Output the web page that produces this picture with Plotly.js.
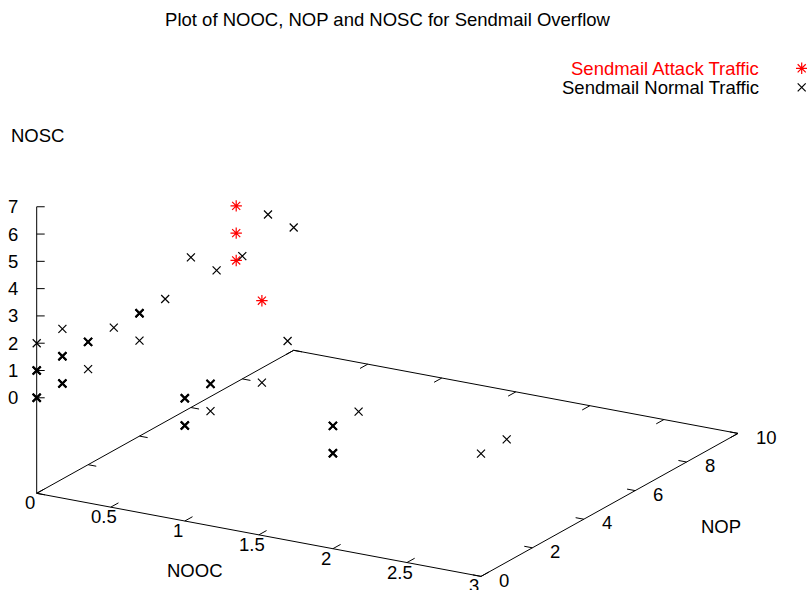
<!DOCTYPE html>
<html><head><meta charset="utf-8">
<script src="https://cdn.plot.ly/plotly-3.0.1.min.js"></script>
<style>html,body{margin:0;padding:0;background:#fff}</style>
</head><body><div id="chart" style="width:807px;height:590px"></div>
<script>
// ---------------- data ----------------
const attackNOOC = [1, 1, 1, 1];
const attackNOP  = [2, 2, 2, 3];
const attackNOSC = [7, 6, 5, 3];

const normalNOOC = [0, 0, 0, 0, 0, 0, 0, 0, 0, 0, 0, 0, 0, 0, 0, 0, 0, 0, 0, 0, 0, 0, 0,
                    1, 1, 1, 1, 1, 1, 1, 1, 1, 2, 2, 2, 2, 2, 3, 3];
const normalNOP  = [0, 0, 0, 0, 0, 1, 1, 1, 1, 1, 2, 2, 2, 3, 4, 4, 4, 5, 6, 7, 8, 9, 10,
                    4, 0, 0, 0, 0, 1, 1, 1, 3, 1, 0, 0, 0, 0, 1, 0];
const normalNOSC = [2, 1, 1, 0, 0, 2, 1, 1, 0, 0, 1, 1, 0, 1, 1, 1, 0, 1, 2, 1, 1, 2, 1,
                    1, 1, 1, 0, 0, 1, 1, 0, 0, 1, 1, 1, 0, 0, 1, 1];

const noocTicks = [0, 0.5, 1, 1.5, 2, 2.5, 3];
const nopTicks  = [0, 2, 4, 6, 8, 10];
const noscTicks = [0, 1, 2, 3, 4, 5, 6, 7];

const noocRange = [0, 3];
const nopRange  = [0, 10];
const noscRange = [0, 7];
const ticsLevel = 0.5;

const titleText = 'Plot of NOOC, NOP and NOSC for Sendmail Overflow';
const attackName = 'Sendmail Attack Traffic';
const normalName = 'Sendmail Normal Traffic';

// ---------------- view (gnuplot-like 60/30 projection) ----------------
const W = 807, H = 590;
const V = {ox: 36.7, oy: 493.3, xx: 148.1, xy: 27.7, yx: 25.7, yy: -14.3, zy: -27.29};
const zBase = noscRange[0] - ticsLevel * (noscRange[1] - noscRange[0]);
function proj(a, b, c) {
  return [V.ox + a * V.xx + b * V.yx, V.oy + a * V.xy + b * V.yy + (c - zBase) * V.zy];
}
const FONT = 'Liberation Sans, Arial, Helvetica, sans-serif';
const FS = 18.5;
const X_SIZE = 8, AST_SIZE = 9.5;

const traces = [];
const ann = [];

// base frame
(function () {
  const [x0, x1] = noocRange, [y0, y1] = nopRange;
  const pts = [[x0, y0], [x1, y0], [x1, y1], [x0, y1], [x0, y0]].map(p => proj(p[0], p[1], zBase));
  traces.push({x: pts.map(p => p[0]), y: pts.map(p => p[1]), mode: 'lines', type: 'scatter',
    line: {color: '#000', width: 1}, hoverinfo: 'skip', showlegend: false});
  const za = proj(x0, y0, zBase), zb = proj(x0, y0, noscRange[1]);
  traces.push({x: [za[0], zb[0]], y: [za[1], zb[1]], mode: 'lines', type: 'scatter',
    line: {color: '#000', width: 1}, hoverinfo: 'skip', showlegend: false});
})();

// ticks
(function () {
  const tx = [], ty = [];
  const seg = (p, q) => { tx.push(p[0], q[0], null); ty.push(p[1], q[1], null); };
  const tY = 0.3, tX = 0.055, tZ = 8;
  noocTicks.forEach(v => {
    seg(proj(v, nopRange[0], zBase), proj(v, nopRange[0] + tY, zBase));
    seg(proj(v, nopRange[1], zBase), proj(v, nopRange[1] - tY, zBase));
    const p = proj(v, nopRange[0], zBase);
    ann.push({x: p[0] - 7, y: p[1] + 9.5, text: String(v), xanchor: 'center', yanchor: 'middle'});
  });
  nopTicks.forEach(v => {
    seg(proj(noocRange[1], v, zBase), proj(noocRange[1] - tX, v, zBase));
    seg(proj(noocRange[0], v, zBase), proj(noocRange[0] + tX, v, zBase));
    const p = proj(noocRange[1], v, zBase);
    ann.push({x: p[0] + 16, y: p[1] + 3.6, text: String(v), xanchor: 'left', yanchor: 'middle'});
  });
  noscTicks.forEach(v => {
    const p = proj(noocRange[0], nopRange[0], v);
    seg(p, [p[0] + tZ, p[1]]);
    ann.push({x: p[0] - 17, y: p[1], text: String(v), xanchor: 'right', yanchor: 'middle'});
  });
  traces.push({x: tx, y: ty, mode: 'lines', type: 'scatter', line: {color: '#000', width: 1},
    hoverinfo: 'skip', showlegend: false});
})();

// normal points (overlapping duplicates drawn heavier)
(function () {
  const cnt = {};
  normalNOOC.forEach((a, i) => { const k = a + ',' + normalNOP[i] + ',' + normalNOSC[i]; cnt[k] = (cnt[k] || 0) + 1; });
  const px = [], py = [], lw = [];
  normalNOOC.forEach((a, i) => {
    const p = proj(a, normalNOP[i], normalNOSC[i]);
    px.push(p[0]); py.push(p[1]);
    lw.push(cnt[a + ',' + normalNOP[i] + ',' + normalNOSC[i]] > 1 ? 2 : 1.2);
  });
  traces.push({x: px, y: py, mode: 'markers', type: 'scatter', name: normalName, showlegend: false,
    marker: {symbol: 'x-thin', size: X_SIZE, color: '#000', line: {color: '#000', width: lw}}});
})();

// attack points
(function () {
  const px = [], py = [];
  attackNOOC.forEach((a, i) => { const p = proj(a, attackNOP[i], attackNOSC[i]); px.push(p[0]); py.push(p[1]); });
  traces.push({x: px, y: py, mode: 'markers', type: 'scatter', name: attackName, showlegend: false,
    marker: {symbol: 'asterisk', size: AST_SIZE, color: '#ff0000', line: {color: '#ff0000', width: 1.2}}});
})();

// gnuplot-style key (text left, sample right)
traces.push({x: [801.7], y: [68.3], mode: 'markers', type: 'scatter', hoverinfo: 'skip', showlegend: false,
  marker: {symbol: 'asterisk', size: AST_SIZE, color: '#ff0000', line: {color: '#ff0000', width: 1.2}}});
traces.push({x: [801.7], y: [87.3], mode: 'markers', type: 'scatter', hoverinfo: 'skip', showlegend: false,
  marker: {symbol: 'x-thin', size: X_SIZE, color: '#000', line: {color: '#000', width: 1.2}}});
ann.push({x: 761, y: 68, text: attackName, xanchor: 'right', yanchor: 'middle', color: '#ff0000'});
ann.push({x: 761, y: 87.5, text: normalName, xanchor: 'right', yanchor: 'middle'});

// axis titles
ann.push({x: 195, y: 570.5, text: 'NOOC', xanchor: 'center', yanchor: 'middle'});
ann.push({x: 720.7, y: 526, text: 'NOP', xanchor: 'center', yanchor: 'middle'});
ann.push({x: 37.7, y: 135.5, text: 'NOSC', xanchor: 'center', yanchor: 'middle'});

const annotations = ann.map(a => ({
  x: a.x, y: a.y, xref: 'x', yref: 'y', text: a.text, showarrow: false,
  xanchor: a.xanchor, yanchor: a.yanchor,
  font: {family: FONT, size: FS, color: a.color || '#000'}
}));

const layout = {
  width: W, height: H,
  margin: {l: 0, r: 0, t: 0, b: 0, pad: 0},
  paper_bgcolor: '#fff', plot_bgcolor: '#fff',
  showlegend: false,
  title: {text: titleText, x: 387.5 / W, xref: 'paper', xanchor: 'center',
          y: 1 - 20 / H, yref: 'paper', yanchor: 'middle',
          font: {family: FONT, size: FS, color: '#000'}},
  xaxis: {range: [0, W], visible: false, fixedrange: true},
  yaxis: {range: [H, 0], visible: false, fixedrange: true},
  annotations: annotations
};

Plotly.newPlot('chart', traces, layout, {displayModeBar: false, staticPlot: true});
</script></body></html>
